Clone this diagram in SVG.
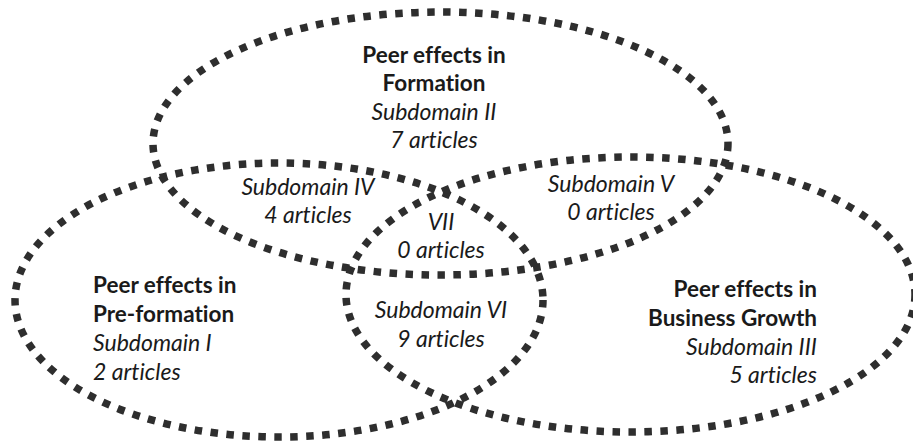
<svg xmlns="http://www.w3.org/2000/svg" width="913" height="442" viewBox="0 0 913 442">
<style>
.ring{fill:none;stroke:#2e2e2e;stroke-width:7.5;stroke-dasharray:7.5 8.5}
text{font-family:Lato,"Noto Sans",sans-serif;font-size:22.5px;fill:#1a1a1a;font-variant-ligatures:none}
.b{font-weight:bold}
.i{font-style:italic;font-size:23px}
.c{text-anchor:middle}
.r{text-anchor:end}
</style>
<rect width="913" height="442" fill="#fff"/>
<g id="connectors"></g>
<g id="formation">
<ellipse class="ring" cx="440.5" cy="143.5" rx="287.5" ry="131.5"/>
<text class="b c" x="434" y="63">Peer effects in</text>
<text class="b c" x="434" y="91">Formation</text>
<text class="i c" x="434" y="120">Subdomain II</text>
<text class="i c" x="434" y="148">7 articles</text>
</g>
<g id="preformation">
<ellipse class="ring" cx="279" cy="300" rx="264" ry="137"/>
<text class="b" x="93" y="293">Peer effects in</text>
<text class="b" x="93" y="322">Pre-formation</text>
<text class="i" x="93" y="351">Subdomain I</text>
<text class="i" x="93" y="380">2 articles</text>
</g>
<g id="growth">
<ellipse class="ring" cx="630.5" cy="294.5" rx="284.5" ry="137.5"/>
<text class="b r" x="817" y="297">Peer effects in</text>
<text class="b r" x="817" y="326">Business Growth</text>
<text class="i r" x="817" y="355">Subdomain III</text>
<text class="i r" x="817" y="383">5 articles</text>
</g>
<g id="sub4">
<text class="i c" x="308" y="195">Subdomain IV</text>
<text class="i c" x="308" y="223">4 articles</text>
</g>
<g id="sub5">
<text class="i c" x="611" y="192">Subdomain V</text>
<text class="i c" x="611" y="220">0 articles</text>
</g>
<g id="sub7">
<text class="i c" x="441" y="230">VII</text>
<text class="i c" x="441" y="258">0 articles</text>
</g>
<g id="sub6">
<text class="i c" x="441" y="318">Subdomain VI</text>
<text class="i c" x="441" y="347">9 articles</text>
</g>
</svg>
